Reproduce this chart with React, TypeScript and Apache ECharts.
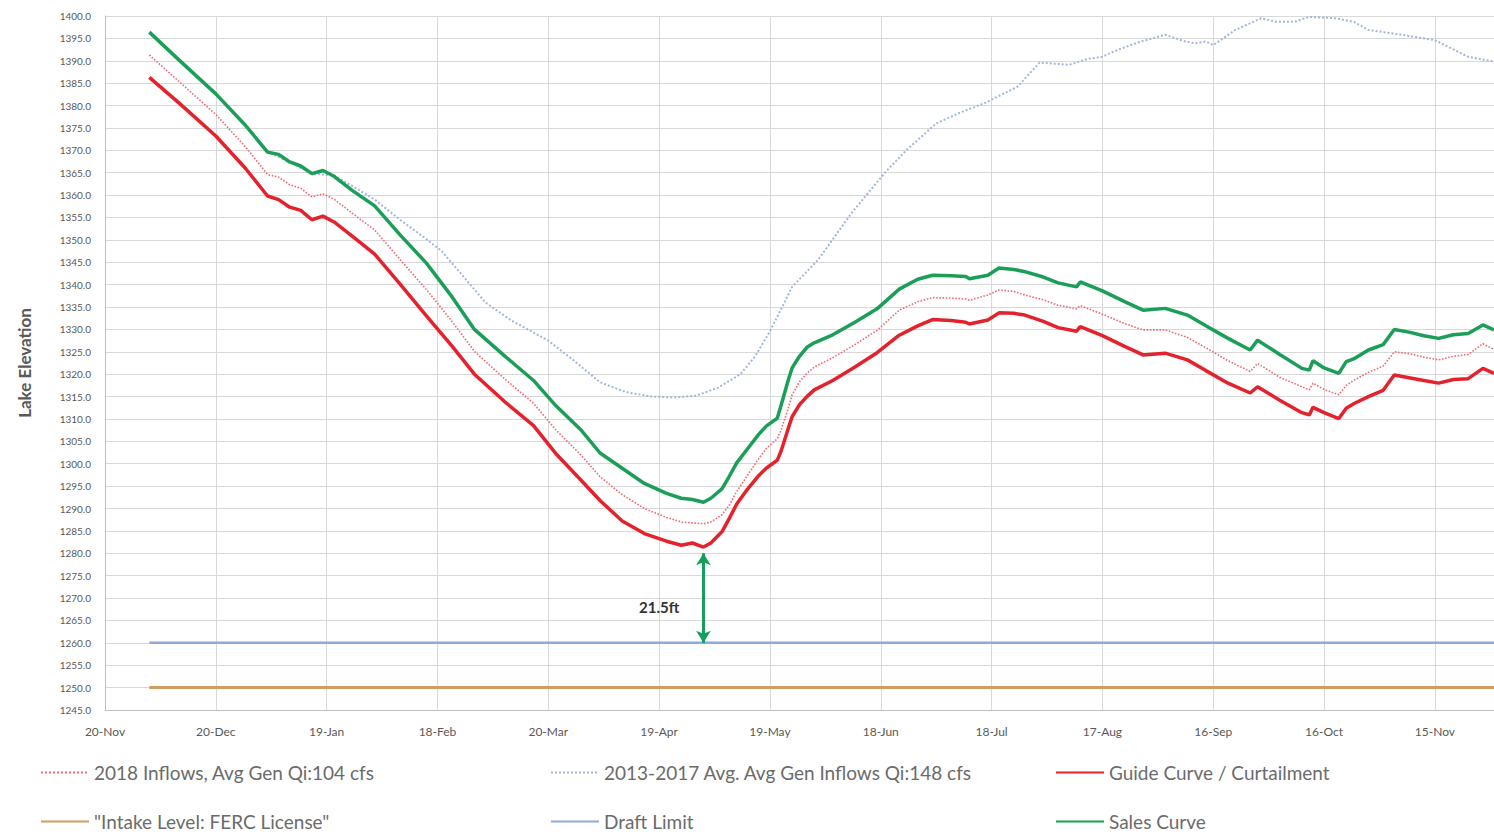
import React, { useEffect, useRef } from "react";
import * as echarts from "echarts";

const xTickLabels = ["20-Nov", "20-Dec", "19-Jan", "18-Feb", "20-Mar", "19-Apr", "19-May", "18-Jun", "18-Jul", "17-Aug", "16-Sep", "16-Oct", "15-Nov"];

// day offsets from 20-Nov
const days = [12, 20, 30, 38, 44, 47, 50, 53, 56, 59, 62, 67, 73, 80, 87, 94, 100, 108, 116, 122, 129, 134, 140, 146, 152, 156, 159, 162, 164, 167, 169, 171, 174, 177, 179, 182, 183, 185, 186, 188, 190, 192, 197, 203, 209, 215, 220, 224, 229, 233, 234, 239, 242, 246, 249, 254, 258, 263, 264, 270, 276, 281, 287, 293, 298, 304, 310, 312, 318, 324, 326, 327, 330, 334, 336, 338, 342, 346, 349, 353, 357, 361, 365, 369, 373, 376];

const guideCurve = [1386.3, 1380.6, 1373.2, 1366.0, 1359.8, 1359.0, 1357.3, 1356.6, 1354.5, 1355.3, 1354.0, 1350.8, 1346.8, 1340.0, 1333.0, 1326.2, 1320.0, 1314.0, 1308.5, 1302.3, 1296.2, 1291.8, 1287.2, 1284.4, 1282.7, 1281.8, 1282.3, 1281.4, 1282.3, 1284.8, 1287.8, 1291.0, 1294.4, 1297.4, 1299.0, 1300.8, 1302.8, 1308.0, 1310.5, 1313.2, 1315.0, 1316.5, 1318.6, 1321.6, 1324.8, 1328.7, 1330.8, 1332.2, 1332.0, 1331.6, 1331.2, 1332.1, 1333.7, 1333.6, 1333.2, 1331.8, 1330.4, 1329.6, 1330.6, 1328.6, 1326.2, 1324.3, 1324.7, 1323.2, 1320.8, 1318.0, 1315.8, 1317.2, 1314.2, 1311.4, 1310.9, 1312.6, 1311.4, 1310.1, 1312.4, 1313.4, 1315.0, 1316.4, 1319.8, 1319.2, 1318.6, 1318.0, 1318.8, 1319.0, 1321.3, 1320.2];

const salesCurve = [1396.4, 1390.2, 1382.6, 1375.6, 1369.6, 1369.1, 1367.4, 1366.5, 1364.8, 1365.5, 1364.2, 1361.0, 1357.6, 1351.0, 1344.8, 1337.2, 1330.0, 1324.2, 1318.6, 1313.0, 1307.4, 1302.4, 1299.0, 1295.6, 1293.4, 1292.3, 1292.0, 1291.4, 1292.3, 1294.4, 1297.2, 1300.2, 1303.4, 1306.6, 1308.4, 1310.2, 1313.0, 1318.8, 1321.4, 1324.0, 1326.0, 1327.0, 1328.8, 1331.6, 1334.6, 1339.0, 1341.2, 1342.1, 1342.0, 1341.8, 1341.3, 1342.1, 1343.7, 1343.4, 1342.9, 1341.7, 1340.4, 1339.5, 1340.6, 1338.6, 1336.2, 1334.3, 1334.7, 1333.2, 1330.8, 1328.0, 1325.4, 1327.6, 1324.4, 1321.3, 1320.9, 1323.0, 1321.4, 1320.2, 1322.8, 1323.4, 1325.4, 1326.6, 1330.0, 1329.4, 1328.6, 1328.0, 1328.8, 1329.1, 1331.0, 1329.9];

const inflows2018 = [1391.3, 1385.4, 1378.0, 1370.8, 1364.6, 1364.0, 1362.3, 1361.5, 1359.6, 1360.3, 1359.1, 1355.9, 1352.2, 1345.5, 1338.9, 1331.7, 1325.1, 1319.1, 1313.5, 1307.6, 1301.8, 1297.1, 1293.1, 1290.0, 1288.0, 1287.0, 1286.8, 1286.6, 1287.0, 1288.6, 1290.8, 1293.8, 1297.5, 1301.2, 1303.4, 1305.6, 1307.5, 1312.5, 1315.4, 1318.3, 1320.2, 1321.6, 1323.7, 1326.6, 1329.8, 1334.3, 1336.2, 1337.1, 1337.0, 1336.8, 1336.5, 1337.7, 1338.8, 1338.5, 1337.7, 1336.6, 1335.4, 1334.6, 1335.3, 1333.4, 1331.3, 1329.9, 1329.9, 1328.2, 1325.9, 1323.0, 1320.6, 1322.4, 1319.3, 1317.2, 1316.5, 1318.0, 1316.6, 1315.4, 1317.5, 1318.6, 1320.4, 1321.8, 1325.0, 1324.6, 1323.8, 1323.2, 1324.0, 1324.4, 1326.8, 1325.5];

const avgDays = [12, 20, 30, 38, 44, 50, 56, 62, 67, 73, 80, 86, 91, 96, 103, 110, 120, 127, 134, 141, 148, 154, 160, 166, 172, 176, 180, 183, 186, 193, 202, 211, 217, 225, 232, 238, 247, 253, 261, 266, 270, 274, 280, 287, 292, 295, 298, 300, 306, 313, 317, 322, 326, 333, 338, 342, 351, 360, 369, 376];
const avg2013to2017 = [1396.4, 1390.2, 1382.6, 1375.6, 1369.6, 1367.4, 1364.8, 1364.4, 1362.0, 1359.0, 1354.4, 1350.8, 1347.6, 1342.8, 1336.0, 1332.0, 1327.5, 1323.0, 1318.2, 1316.0, 1315.0, 1314.8, 1315.2, 1317.0, 1320.0, 1324.0, 1329.6, 1334.5, 1339.5, 1345.5, 1355.9, 1364.9, 1370.1, 1376.0, 1378.6, 1380.5, 1384.2, 1389.6, 1389.1, 1390.4, 1390.9, 1392.4, 1394.2, 1395.8, 1394.4, 1393.9, 1394.3, 1393.5, 1396.9, 1399.5, 1398.7, 1398.7, 1399.8, 1399.5, 1398.7, 1396.9, 1395.8, 1394.6, 1390.9, 1389.8];

const flatDays = [12, 376];
const draftLimit = [1260, 1260];
const intakeLevel = [1250, 1250];

const arrowDay = 162;
const arrowTop = 1280;
const arrowBottom = 1260;
const gapLabel = "21.5ft";
const gapLabelPos = [150, 1268];

const names = {
  inflows: "2018 Inflows, Avg Gen Qi:104 cfs",
  avg: "2013-2017 Avg. Avg Gen Inflows Qi:148 cfs",
  guide: "Guide Curve / Curtailment",
  intake: "\"Intake Level: FERC License\"",
  draft: "Draft Limit",
  sales: "Sales Curve",
};

const zip = (xs: number[], ys: number[]) => xs.map((x, i) => [x, ys[i]]);

const FONT = "Lato, 'Open Sans', sans-serif";

export default function App() {
  const ref = useRef<HTMLDivElement>(null);
  useEffect(() => {
    if (!ref.current) return;
    const chart = echarts.init(ref.current, undefined, { renderer: "svg" });
    const legendText = { color: "#6b6b6b", fontSize: 19, fontFamily: FONT };
    const mkLegend = (name: string, left: number, top: number) => ({
      data: [name],
      left,
      top,
      icon: "inherit",
      itemWidth: 48,
      itemHeight: 14,
      itemGap: 4,
      itemStyle: { opacity: 0 },
      textStyle: legendText,
      selectedMode: false,
    });
    chart.setOption({
      animation: false,
      textStyle: { fontFamily: FONT },
      grid: { left: 105, right: 0, top: 16, bottom: 124, containLabel: false },
      legend: [
        mkLegend(names.inflows, 35, 758),
        mkLegend(names.avg, 545, 758),
        mkLegend(names.guide, 1050, 758),
        mkLegend(names.intake, 35, 807),
        mkLegend(names.draft, 545, 807),
        mkLegend(names.sales, 1050, 807),
      ],
      xAxis: {
        type: "value",
        min: 0,
        max: 376,
        interval: 30,
        axisLine: { show: true, lineStyle: { color: "#bfbfbf", width: 1 } },
        axisTick: { show: false },
        splitLine: { show: true, lineStyle: { color: "#d9d9d9", width: 1 } },
        axisLabel: {
          color: "#595959",
          fontSize: 12,
          margin: 15,
          showMaxLabel: false,
          formatter: (v: number) => xTickLabels[Math.round(v / 30)] ?? "",
        },
      },
      yAxis: {
        type: "value",
        min: 1245,
        max: 1400,
        interval: 5,
        name: "Lake Elevation",
        nameLocation: "middle",
        nameRotate: 90,
        nameGap: 72,
        nameTextStyle: { color: "#595959", fontSize: 17, fontWeight: "bold", fontFamily: FONT },
        axisLine: { show: true, lineStyle: { color: "#bfbfbf" } },
        axisTick: { show: false },
        splitLine: { show: true, lineStyle: { color: "#d9d9d9", width: 1 } },
        axisLabel: {
          color: "#595959",
          fontSize: 10,
          margin: 14,
          formatter: (v: number) => v.toFixed(1),
        },
      },
      series: [
        {
          name: names.avg,
          type: "line",
          data: zip(avgDays, avg2013to2017),
          showSymbol: false,
          symbol: "none",
          lineStyle: { color: "#a3b7d9", width: 2, type: "dotted" },
          itemStyle: { color: "#a3b7d9" },
          z: 2,
        },
        {
          name: names.inflows,
          type: "line",
          data: zip(days, inflows2018),
          showSymbol: false,
          symbol: "none",
          lineStyle: { color: "#ee6b73", width: 1.6, type: "dotted" },
          itemStyle: { color: "#ee6b73" },
          z: 3,
        },
        {
          name: names.guide,
          type: "line",
          data: zip(days, guideCurve),
          showSymbol: false,
          symbol: "none",
          lineStyle: { color: "#e5212c", width: 3.5 },
          itemStyle: { color: "#e5212c" },
          z: 4,
        },
        {
          name: names.intake,
          type: "line",
          data: zip(flatDays, intakeLevel),
          showSymbol: false,
          symbol: "none",
          lineStyle: { color: "#d29b62", width: 3 },
          itemStyle: { color: "#d29b62" },
          z: 3,
        },
        {
          name: names.draft,
          type: "line",
          data: zip(flatDays, draftLimit),
          showSymbol: false,
          symbol: "none",
          lineStyle: { color: "#8eaadb", width: 2.5 },
          itemStyle: { color: "#8eaadb" },
          z: 3,
          markLine: {
            silent: true,
            symbol: ["arrow", "arrow"],
            symbolSize: [11, 12],
            label: { show: false },
            lineStyle: { color: "#14a05a", width: 3, type: "solid" },
            data: [[{ coord: [arrowDay, arrowTop] }, { coord: [arrowDay, arrowBottom] }]],
            z: 6,
          },
          markPoint: {
            silent: true,
            symbol: "circle",
            symbolSize: 0,
            label: {
              show: true,
              formatter: gapLabel,
              color: "#333333",
              fontWeight: "bold",
              fontSize: 15,
              fontFamily: FONT,
            },
            data: [{ coord: gapLabelPos, value: gapLabel }],
          },
        },
        {
          name: names.sales,
          type: "line",
          data: zip(days, salesCurve),
          showSymbol: false,
          symbol: "none",
          lineStyle: { color: "#1b9e57", width: 3.5 },
          itemStyle: { color: "#1b9e57" },
          z: 5,
        },
      ],
    });
    return () => chart.dispose();
  }, []);
  return (
    <div
      ref={ref}
      style={{ position: "absolute", left: 0, top: 0, width: 1494, height: 834, background: "#ffffff" }}
    />
  );
}
